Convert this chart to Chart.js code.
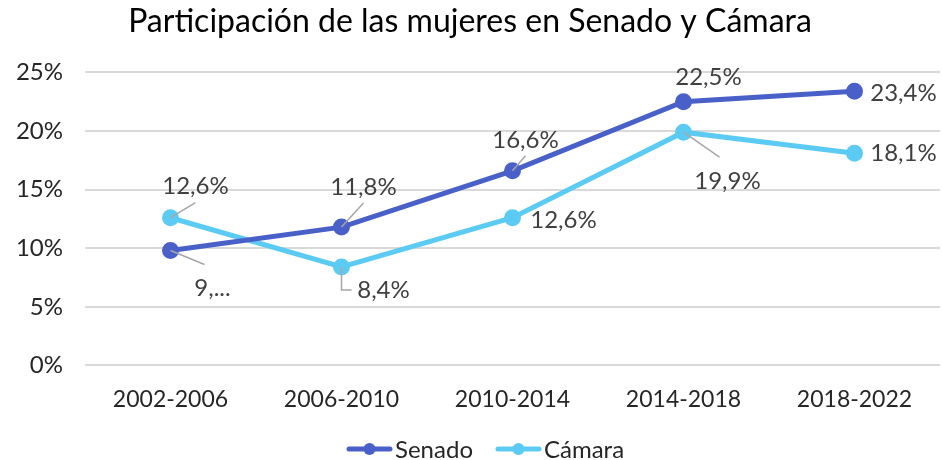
<!DOCTYPE html>
<html>
<head>
<meta charset="utf-8">
<script src="https://cdn.jsdelivr.net/npm/chart.js@4.4.1/dist/chart.umd.min.js"></script>
<style>
  html, body { margin: 0; padding: 0; background: #fff; }
  #wrap { width: 942px; height: 460px; }
</style>
</head>
<body>
<div id="wrap"><canvas id="chart"></canvas></div>
<script>
// data
const periodos = ['2002-2006', '2006-2010', '2010-2014', '2014-2018', '2018-2022'];
const senado = [9.8, 11.8, 16.6, 22.5, 23.4];
const camara = [12.6, 8.4, 12.6, 19.9, 18.1];
const senadoEtiquetas = ['9,...', '11,8%', '16,6%', '22,5%', '23,4%'];
const camaraEtiquetas = ['12,6%', '8,4%', '12,6%', '19,9%', '18,1%'];

const FONT = 'Lato, "Open Sans", sans-serif';
const colSenado = '#4a60c9';
const colCamara = '#5ccbf3';

// label placement relative to the point: dx, dy of label centre, leader type
const labelPos = [
  [ {dx: 42, dy: 38, leader: 'line'}, {dx: 22, dy: -40, leader: 'line'}, {dx: 13, dy: -31, leader: 'line'}, {dx: 25, dy: -24, leader: 'none'}, {dx: 49, dy: 2, leader: 'none'} ],
  [ {dx: 25, dy: -31, leader: 'line'}, {dx: 42, dy: 23, leader: 'elbow'}, {dx: 51, dy: 3, leader: 'none'}, {dx: 44, dy: 49, leader: 'line'}, {dx: 49, dy: 0, leader: 'none'} ]
];

const labelPlugin = {
  id: 'etiquetas',
  afterDatasetsDraw(chart) {
    const ctx = chart.ctx;
    const textos = [senadoEtiquetas, camaraEtiquetas];
    ctx.save();
    ctx.font = '24px ' + FONT;
    ctx.textAlign = 'center';
    ctx.textBaseline = 'middle';
    chart.data.datasets.forEach((ds, i) => {
      const meta = chart.getDatasetMeta(i);
      meta.data.forEach((pt, j) => {
        const p = labelPos[i][j];
        const lx = pt.x + p.dx, ly = pt.y + p.dy;
        ctx.strokeStyle = '#a6a6a6';
        ctx.lineWidth = 1.5;
        if (p.leader === 'line') {
          const ex = p.dy < 0 ? lx : lx - 8;
          const ey = p.dy < 0 ? ly + 16 : ly - 24;
          ctx.beginPath(); ctx.moveTo(pt.x, pt.y); ctx.lineTo(ex, ey); ctx.stroke();
        } else if (p.leader === 'elbow') {
          ctx.beginPath(); ctx.moveTo(pt.x, pt.y); ctx.lineTo(pt.x, ly); ctx.lineTo(pt.x + 10, ly); ctx.stroke();
        }
        ctx.fillStyle = '#404040';
        ctx.fillText(textos[i][j], lx, ly);
      });
    });
    ctx.restore();
  }
};

// legend drawn by hand: line with a dot, then the series name
const legendPlugin = {
  id: 'leyenda',
  afterDraw(chart) {
    const ctx = chart.ctx;
    ctx.save();
    ctx.font = '24px ' + FONT;
    ctx.textBaseline = 'middle';
    ctx.textAlign = 'left';
    const y = 449;
    let x = 347;
    chart.data.datasets.forEach(ds => {
      ctx.strokeStyle = ds.borderColor;
      ctx.fillStyle = ds.borderColor;
      ctx.lineWidth = 5;
      ctx.lineCap = 'round';
      ctx.beginPath(); ctx.moveTo(x + 2, y); ctx.lineTo(x + 43, y); ctx.stroke();
      ctx.beginPath(); ctx.arc(x + 22.5, y, 6, 0, Math.PI * 2); ctx.fill();
      ctx.fillStyle = '#262626';
      ctx.fillText(ds.label, x + 48, y + 1);
      x += 48 + ctx.measureText(ds.label).width + 23;
    });
    ctx.restore();
  }
};

new Chart(document.getElementById('chart'), {
  type: 'line',
  data: {
    labels: periodos,
    datasets: [
      { label: 'Senado', data: senado, borderColor: colSenado, backgroundColor: colSenado,
        borderWidth: 5, pointRadius: 6, pointHoverRadius: 6, tension: 0 },
      { label: 'Cámara', data: camara, borderColor: colCamara, backgroundColor: colCamara,
        borderWidth: 5, pointRadius: 6, pointHoverRadius: 6, tension: 0 }
    ]
  },
  options: {
    responsive: true,
    maintainAspectRatio: false,
    animation: false,
    layout: { autoPadding: false, padding: { left: 0, right: 2, top: 2, bottom: 35 } },
    plugins: {
      title: {
        display: true,
        text: 'Participación de las mujeres en Senado y Cámara',
        color: '#000',
        font: { family: FONT, size: 32, weight: 'normal' },
        padding: { top: 0, bottom: 32 }
      },
      legend: { display: false },
      tooltip: { enabled: false }
    },
    scales: {
      x: {
        offset: true,
        grid: { display: false },
        border: { display: false },
        ticks: { color: '#262626', font: { family: FONT, size: 23 }, padding: 12 }
      },
      y: {
        min: 0, max: 25,
        grid: { color: '#d9d9d9', lineWidth: 2, drawTicks: false },
        border: { display: false },
        ticks: { stepSize: 5, color: '#262626', font: { family: FONT, size: 24 }, padding: 22,
          callback: v => v + '%' },
        afterFit(scale) { scale.width = 85; }
      }
    }
  },
  plugins: [labelPlugin, legendPlugin]
});
</script>
</body>
</html>
